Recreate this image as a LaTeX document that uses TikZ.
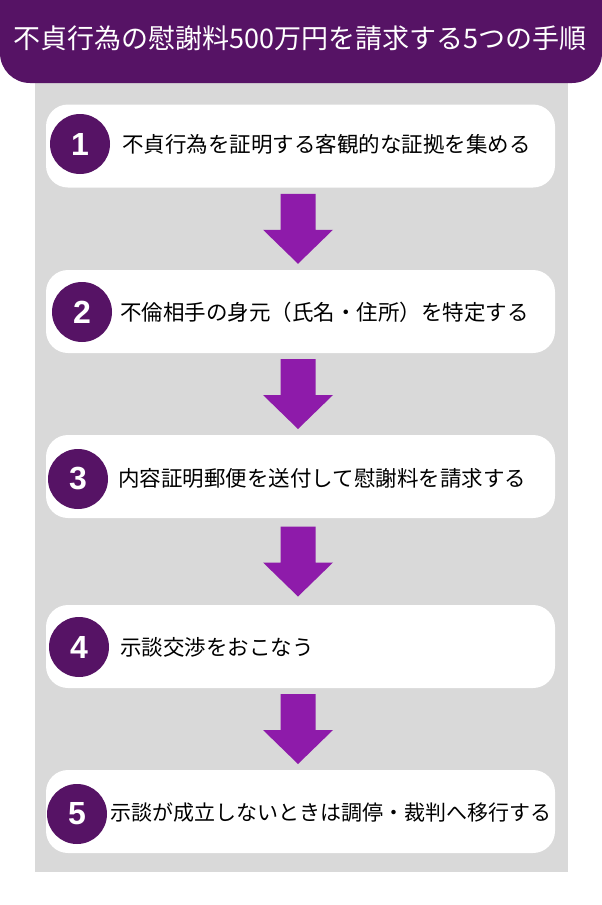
\documentclass[tikz,border=0pt]{standalone}
\usepackage{fontspec}
\setmainfont{Liberation Sans}
\newfontfamily\cjk{Noto Sans CJK JP}
\newfontfamily\numfont{Liberation Sans}
\usetikzlibrary{calc}
\definecolor{hdpurple}{RGB}{86,19,101}
\definecolor{arrpurple}{RGB}{142,27,170}
\definecolor{bggray}{RGB}{217,217,217}
\tikzset{
  stepbox/.style={rectangle, rounded corners=22pt, fill=white, minimum width=509pt, minimum height=83pt, inner sep=0pt},
  numcirc/.style={circle, fill=hdpurple, minimum size=60pt, inner sep=0pt, text=white, font=\numfont\bfseries\fontsize{32}{32}\selectfont},
  steptext/.style={anchor=west, inner sep=0pt, text=black, font=\cjk\fontsize{21.5}{24}\selectfont},
  downarr/.pic={\fill[arrpurple] (-17.5,-35) -- (17.5,-35) -- (17.5,1) -- (35,1) -- (0,35) -- (-35,1) -- (-17.5,1) -- cycle;}
}
\begin{document}
\begin{tikzpicture}[x=1pt,y=-1pt]
\useasboundingbox (0,0) rectangle (602,905);
\fill[white] (0,0) rectangle (602,905);
\fill[bggray] (35,83) rectangle (568,872);
\begin{scope}
\clip (0,0) rectangle (602,905);
\fill[hdpurple, rounded corners=30pt] (0,-60) rectangle (602,83);
\end{scope}
\node[text=white, inner sep=0pt, font=\cjk\fontsize{27}{30}\selectfont] (title) at (300,38) {不貞行為の慰謝料500万円を請求する5つの手順};

\node[stepbox] (s1) at (300.5,146) {};
\node[stepbox] (s2) at (300.5,311.5) {};
\node[stepbox] (s3) at (300.5,476.5) {};
\node[stepbox] (s4) at (300.5,646.5) {};
\node[stepbox] (s5) at (300.5,811.5) {};

\node[numcirc] (c1) at (80,144) {1};
\node[numcirc] (c2) at (82,312) {2};
\node[numcirc] (c3) at (78,479) {3};
\node[numcirc] (c4) at (79,647) {4};
\node[numcirc] (c5) at (77,814) {5};

\node[steptext] (t1) at (122,144) {不貞行為を証明する客観的な証拠を集める};
\node[steptext] (t2) at (120,312) {不倫相手の身元（氏名・住所）を特定する};
\node[steptext] (t3) at (118,478) {内容証明郵便を送付して慰謝料を請求する};
\node[steptext] (t4) at (120,647) {示談交渉をおこなう};
\node[steptext, font=\cjk\fontsize{21}{24}\selectfont] (t5) at (110,813) {示談が成立しないときは調停・裁判へ移行する};

\path ($(s1.south)!0.5!(s2.north)$) ++(-2.5,0) pic {downarr};
\path ($(s2.south)!0.5!(s3.north)$) ++(-2.5,0) pic {downarr};
\path ($(s3.south)!0.5!(s4.north)$) ++(-2.5,0) pic {downarr};
\path ($(s4.south)!0.5!(s5.north)$) ++(-2.5,0) pic {downarr};
\end{tikzpicture}
\end{document}
